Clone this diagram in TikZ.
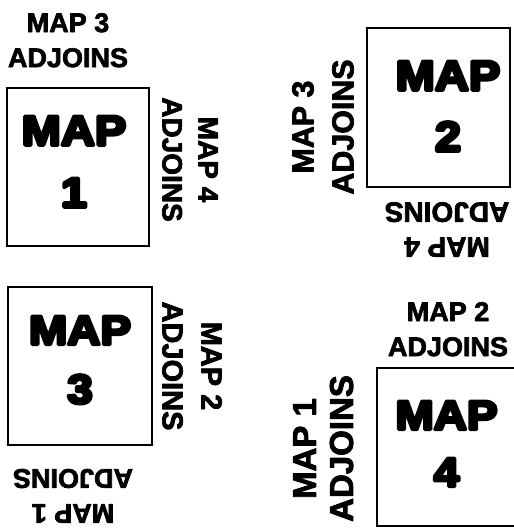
\documentclass[tikz,border=0pt]{standalone}
\usepackage{fontspec}
\setmainfont{Liberation Sans}
\newfontfamily\labfam{Liberation Sans}[BoldFeatures={FakeBold=2.5}]
\newfontfamily\bigfam{Liberation Sans}[BoldFeatures={FakeBold=8, FakeStretch=1.12}]
\begin{document}
\begin{tikzpicture}[x=1pt,y=-1pt, line join=round,
  mapbox/.style={draw, line width=1.6pt, inner sep=0pt, line join=miter},
  lab/.style 2 args={font=\labfam\bfseries\fontsize{#1}{#2}\selectfont, align=center, inner sep=0pt, anchor=north},
  big/.style 2 args={font=\bigfam\bfseries\fontsize{#1}{#2}\selectfont, align=center, inner sep=0pt, anchor=north}]
\useasboundingbox (0,0) rectangle (513,529);
% boxes
\node[mapbox, minimum width=142pt, minimum height=158pt] (box1) at (78,167) {};
\node[mapbox, minimum width=143pt, minimum height=159pt] (box2) at (438.5,107.5) {};
\node[mapbox, minimum width=144pt, minimum height=158pt] (box3) at (80,366) {};
\node[mapbox, minimum width=156pt, minimum height=158pt] (box4) at (455,447) {};
% contents
\node[big={42}{62}] (m1) at (74,116) {MAP\\1};
\node[big={42}{61}] (m2) at (448,61) {MAP\\2};
\node[big={41}{59}] (m3) at (80,316) {MAP\\3};
\node[big={41}{57}] (m4) at (446.5,401) {MAP\\4};
% labels
\node[lab={27}{35}] (a) at (68,13) {MAP 3\\ADJOINS};
\node[lab={28}{36}, rotate=-90] (b) at (218,159.5) {MAP 4\\ADJOINS};
\node[lab={30.4}{40}, rotate=90] (c) at (292,127) {MAP 3\\ADJOINS};
\node[lab={28}{35}, rotate=180] (d) at (447,257) {MAP 4\\ADJOINS};
\node[lab={29}{39}, rotate=-90] (e) at (222,366) {MAP 2\\ADJOINS};
\node[lab={27}{35}, rotate=180] (f) at (73,523) {MAP 1\\ADJOINS};
\node[lab={27}{35}] (g) at (448,302) {MAP 2\\ADJOINS};
\node[lab={33}{37}, rotate=90] (h) at (293,448.5) {MAP 1\\ADJOINS};
\end{tikzpicture}
\end{document}
